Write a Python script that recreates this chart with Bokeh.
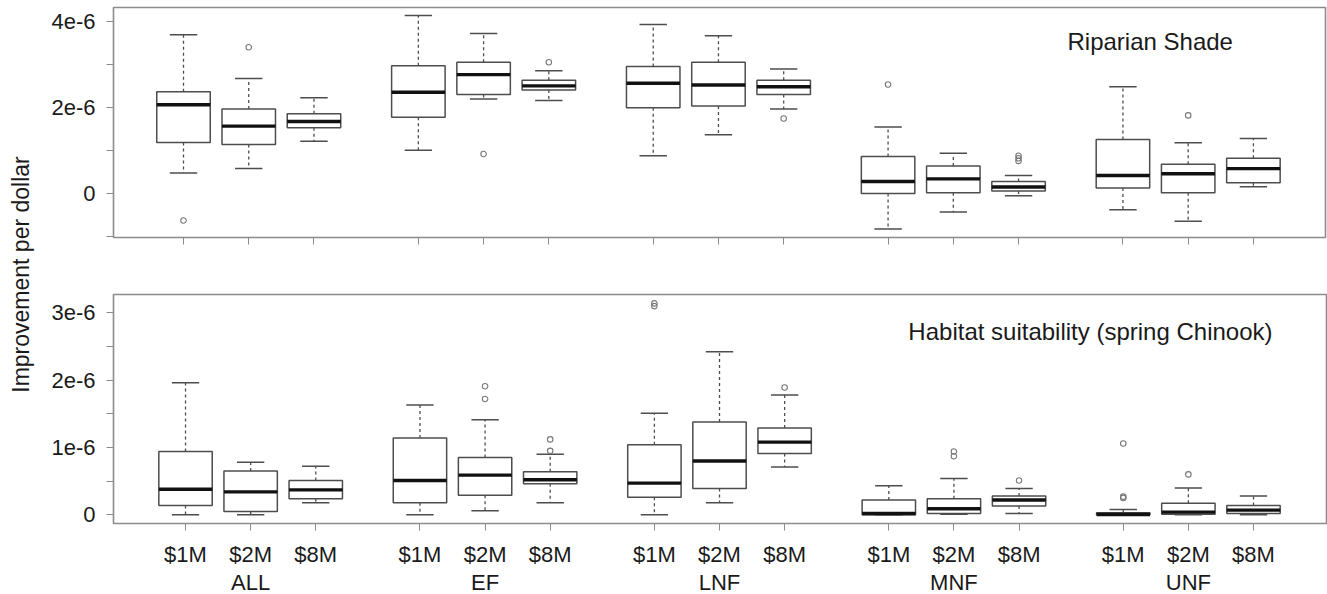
import math
from bokeh.plotting import figure
from bokeh.models import ColumnDataSource, FixedTicker, Range1d, Label, LinearAxis
from bokeh.layouts import row, column
from bokeh.embed import file_html
from bokeh.resources import INLINE
from bokeh.core.properties import value

# ---------------- data (values in units of 1e-6 per dollar) ----------------
groups = ["ALL", "EF", "LNF", "MNF", "UNF"]
budgets = ["$1M", "$2M", "$8M"]

# Riparian Shade: one entry per box, order ALL $1M, $2M, $8M, EF $1M, ...
shade_low = [0.48, 0.58, 1.22, 1.01, 2.20, 2.17, 0.88, 1.37, 1.97, -0.83, -0.43, -0.05, -0.38, -0.65, 0.16]
shade_q1 = [1.19, 1.14, 1.53, 1.78, 2.31, 2.41, 2.00, 2.04, 2.31, 0.00, 0.02, 0.06, 0.13, 0.02, 0.25]
shade_med = [2.07, 1.57, 1.68, 2.36, 2.77, 2.51, 2.57, 2.53, 2.49, 0.28, 0.34, 0.15, 0.42, 0.46, 0.58]
shade_q3 = [2.37, 1.97, 1.86, 2.98, 3.06, 2.64, 2.96, 3.06, 2.64, 0.86, 0.64, 0.28, 1.26, 0.68, 0.82]
shade_high = [3.70, 2.68, 2.23, 4.15, 3.73, 2.86, 3.94, 3.68, 2.90, 1.55, 0.94, 0.42, 2.49, 1.18, 1.28]
shade_out_box = [0, 1, 4, 5, 8, 9, 11, 11, 11, 13]
shade_out_val = [-0.63, 3.41, 0.92, 3.06, 1.75, 2.54, 0.88, 0.82, 0.76, 1.82]

# Habitat suitability (spring Chinook)
hab_low = [0.00, 0.00, 0.18, 0.00, 0.06, 0.18, 0.00, 0.18, 0.71, 0.00, 0.01, 0.02, 0.00, 0.00, 0.00]
hab_q1 = [0.14, 0.05, 0.24, 0.18, 0.29, 0.46, 0.26, 0.39, 0.91, 0.00, 0.02, 0.13, 0.00, 0.01, 0.02]
hab_med = [0.38, 0.34, 0.37, 0.51, 0.59, 0.52, 0.47, 0.80, 1.08, 0.02, 0.09, 0.22, 0.005, 0.04, 0.07]
hab_q3 = [0.94, 0.65, 0.51, 1.14, 0.85, 0.64, 1.04, 1.38, 1.29, 0.22, 0.24, 0.28, 0.03, 0.17, 0.14]
hab_high = [1.96, 0.78, 0.72, 1.63, 1.41, 0.90, 1.51, 2.42, 1.78, 0.43, 0.54, 0.39, 0.08, 0.40, 0.28]
hab_out_box = [4, 4, 5, 5, 6, 6, 8, 10, 10, 11, 12, 12, 12, 13]
hab_out_val = [1.91, 1.72, 1.12, 0.95, 3.14, 3.10, 1.89, 0.94, 0.87, 0.51, 1.06, 0.27, 0.25, 0.60]

# y tick labels (labelled ticks) and unlabelled tick marks
shade_ticks = {0: "0", 2: "2e-6", 4: "4e-6"}
shade_minor = [-1, 1, 3]
hab_ticks = {0: "0", 1: "1e-6", 2: "2e-6", 3: "3e-6"}
hab_minor = [0.5, 1.5, 2.5]

# ---------------- styling ----------------
FONT = "Liberation Sans"
TXT = "#1a1a1a"
BOXC = "#4d4d4d"
FRAME = "#8c8c8c"
GAP = 3.6          # distance between first boxes of adjacent groups
BOX_HALF = 0.41
CAP_HALF = 0.21

positions = [1 + g * GAP + k for g in range(len(groups)) for k in range(len(budgets))]
tick_text = [b for g in groups for b in budgets]
group_centers = [1 + g * GAP + 1 for g in range(len(groups))]


def make_panel(low, q1, med, q3, high, out_box, out_val, yticks, yminor, xr, yr,
               frame_w, frame_h, bl, br, bt, bb, show_labels):
    p = figure(frame_width=frame_w, frame_height=frame_h,
               x_range=Range1d(*xr), y_range=Range1d(*yr),
               toolbar_location=None, output_backend="svg",
               min_border_left=bl, min_border_right=br,
               min_border_top=bt, min_border_bottom=bb)
    p.grid.visible = False
    p.outline_line_color = FRAME
    p.outline_line_width = 1.6
    p.background_fill_color = "white"
    p.border_fill_color = "white"

    src = ColumnDataSource(dict(
        x=positions,
        l=[x - BOX_HALF for x in positions], r=[x + BOX_HALF for x in positions],
        cl=[x - CAP_HALF for x in positions], cr=[x + CAP_HALF for x in positions],
        low=low, q1=q1, med=med, q3=q3, high=high))
    # whiskers
    p.segment("x", "q3", "x", "high", source=src, line_color=BOXC, line_width=1.3, line_dash="3 3")
    p.segment("x", "q1", "x", "low", source=src, line_color=BOXC, line_width=1.3, line_dash="3 3")
    # caps
    p.segment("cl", "high", "cr", "high", source=src, line_color=BOXC, line_width=1.5)
    p.segment("cl", "low", "cr", "low", source=src, line_color=BOXC, line_width=1.5)
    # boxes
    p.quad(left="l", right="r", bottom="q1", top="q3", source=src,
           fill_color="white", line_color=BOXC, line_width=1.5)
    # medians
    p.segment("l", "med", "r", "med", source=src, line_color="#111111", line_width=3.4)
    # outliers
    osrc = ColumnDataSource(dict(x=[positions[i] for i in out_box], y=out_val))
    p.scatter("x", "y", source=osrc, marker="circle", size=5.5, fill_color=None,
              line_color="#777777", line_width=1.1)

    # x axis
    xa = p.xaxis[0]
    xa.axis_line_color = None
    xa.major_tick_out = 7
    xa.major_tick_in = 0
    xa.minor_tick_out = 7
    xa.minor_tick_in = 0
    xa.major_tick_line_color = FRAME
    xa.minor_tick_line_color = FRAME
    if show_labels:
        xa.ticker = FixedTicker(ticks=positions, minor_ticks=[])
        xa.major_label_overrides = {pos: t for pos, t in zip(positions, tick_text)}
        xa.major_label_text_font_size = "22px"
        xa.major_label_text_font = FONT
        xa.major_label_text_color = TXT
        xa.major_label_standoff = 11
        # group names on a second, tick-less axis
        ga = LinearAxis(ticker=FixedTicker(ticks=group_centers, minor_ticks=[]),
                        major_label_overrides={c: g for c, g in zip(group_centers, groups)})
        ga.axis_line_color = None
        ga.major_tick_line_color = None
        ga.minor_tick_line_color = None
        ga.major_tick_out = 0
        ga.major_tick_in = 0
        ga.minor_tick_out = 0
        ga.minor_tick_in = 0
        ga.major_label_standoff = 0
        ga.major_label_text_font_size = "22px"
        ga.major_label_text_font = FONT
        ga.major_label_text_color = TXT
        p.add_layout(ga, "below")
    else:
        xa.ticker = FixedTicker(ticks=[], minor_ticks=positions)

    # y axis
    ya = p.yaxis[0]
    ya.ticker = FixedTicker(ticks=list(yticks.keys()), minor_ticks=yminor)
    ya.major_label_overrides = dict(yticks)
    ya.axis_line_color = None
    ya.major_tick_out = 7
    ya.major_tick_in = 0
    ya.minor_tick_out = 7
    ya.minor_tick_in = 0
    ya.major_tick_line_color = FRAME
    ya.minor_tick_line_color = FRAME
    ya.major_label_text_font_size = "22px"
    ya.major_label_text_font = FONT
    ya.major_label_text_color = TXT
    ya.major_label_standoff = 11
    return p


LAB_W = 38
top = make_panel(shade_low, shade_q1, shade_med, shade_q3, shade_high,
                 shade_out_box, shade_out_val, shade_ticks, shade_minor,
                 xr=(-0.073, 18.505), yr=(-1.026, 4.336),
                 frame_w=1212, frame_h=230, bl=113 - LAB_W, br=2, bt=7, bb=25,
                 show_labels=False)
top.add_layout(Label(x=14.55, y=3.54, text="Riparian Shade", text_font=FONT,
                     text_font_size="24px", text_color=TXT, text_baseline="middle",
                     text_align="left"))

bot = make_panel(hab_low, hab_q1, hab_med, hab_q3, hab_high,
                 hab_out_box, hab_out_val, hab_ticks, hab_minor,
                 xr=(-0.106, 18.521), yr=(-0.129, 3.272),
                 frame_w=1213, frame_h=229, bl=108 - LAB_W, br=6, bt=32, bb=68,
                 show_labels=True)
bot.add_layout(Label(x=12.10, y=2.72, text="Habitat suitability (spring Chinook)",
                     text_font=FONT, text_font_size="24px", text_color=TXT,
                     text_baseline="middle", text_align="left"))

TOTAL_H = 591
lab = figure(width=LAB_W, height=TOTAL_H, x_range=(0, LAB_W), y_range=(0, TOTAL_H),
             toolbar_location=None, output_backend="svg", min_border=0)
lab.axis.visible = False
lab.grid.visible = False
lab.outline_line_color = None
lab.text(x=[20], y=[TOTAL_H - 274], text=["Improvement per dollar"],
         angle=math.pi / 2, text_align="center", text_baseline="middle",
         text_font=value(FONT), text_font_size="23px", text_color=TXT)

layout = row(lab, column(top, bot))
open("out.html", "w").write(file_html(layout, INLINE))
